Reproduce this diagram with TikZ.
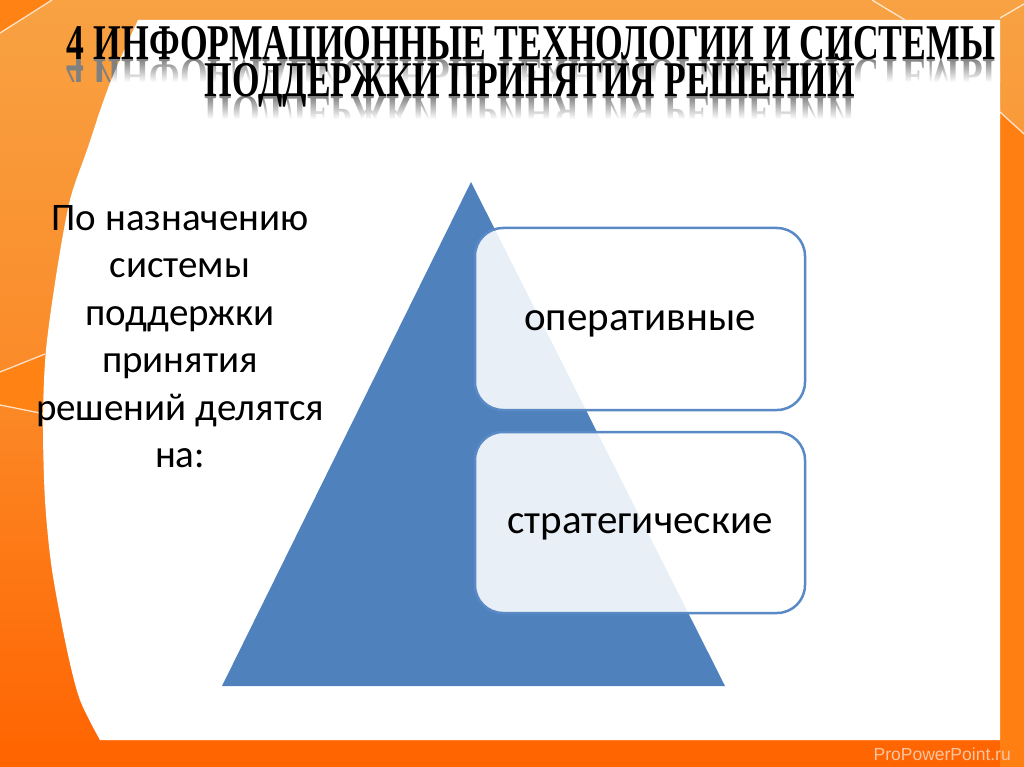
\documentclass[tikz,border=0pt]{standalone}
\usepackage{fontspec}
\setmainfont{Liberation Serif}
\newfontfamily\bodyfont{Carlito}
\newfontfamily\wmfont{Liberation Sans}
\usetikzlibrary{fadings}
\definecolor{orTop}{HTML}{F8A243}
\definecolor{orMid}{HTML}{FB8A28}
\definecolor{orBot}{HTML}{FF6400}
\definecolor{orDark}{HTML}{FF8214}
\definecolor{triBlue}{HTML}{4F81BD}
\definecolor{boxLine}{HTML}{5A8AC6}
\definecolor{wmCol}{HTML}{F9C6A4}
\newcommand{\ttl}[1]{{\rmfamily\bfseries\fontsize{50}{50}\selectfont #1}}
\tikzset{
  titletext/.style={inner sep=0pt, anchor=base},
  reflect/.style={titletext, text=black!50},
  bodytext/.style={inner sep=0pt, align=center, font=\bodyfont\fontsize{39}{47.5}\selectfont},
  boxstyle/.style={draw=boxLine, line width=2.5pt, rounded corners=28pt, fill=white, fill opacity=0.88, text opacity=1, minimum width=330pt, minimum height=182pt, text height=22pt, text depth=0pt, font=\bodyfont\fontsize{41}{44}\selectfont},
  deco/.style={draw=white, line width=1.3pt, opacity=0.75}
}
\def\panelpath{plot[smooth] coordinates {(100,-740) (80,-700) (67,-650) (52,-570) (45,-500) (43,-420) (46,-350) (57,-270) (70,-200) (87,-150) (110,-83) (138,-20)} -- (1000,-20) -- (1000,-740) -- cycle}
\begin{document}
\begin{tikzpicture}[x=1pt,y=1pt]
\useasboundingbox (0,0) rectangle (1024,-767);
% background
\shade[top color=orTop, bottom color=orBot, middle color=orMid] (0,0) rectangle (1024,-767);
\fill[orDark] (0,0) -- (52,0) -- (0,-33) -- cycle;
\fill[orDark] (0,-372) -- (45,-354) -- (45,-414) -- (0,-405) -- cycle;
\fill[orDark!90!orBot] (1000,-112) -- (1024,-134) -- (1024,-767) -- (1000,-767) -- cycle;
\draw[deco] (0,-33) -- (52,0);
\draw[deco] (0,-372) -- (45,-354);
\draw[deco] (0,-405) -- (45,-414);
\draw[deco] (872,0) -- (905,-20);
\draw[deco] (1000,-18) -- (1024,-4);
\draw[deco] (1000,-112) -- (1024,-134);
% white panel
\fill[white] \panelpath;
% title reflections
\begin{scope}
\clip (0,-60) rectangle (1024,-82);
\node[reflect] (r1) at (531,-60) {\scalebox{1}[-1]{\resizebox{928pt}{\height}{\ttl{4 ИНФОРМАЦИОННЫЕ ТЕХНОЛОГИИ И СИСТЕМЫ}}}};
\end{scope}
\begin{scope}
\clip (0,-97) rectangle (1024,-119);
\node[reflect] (r2) at (530,-97) {\scalebox{1}[-1]{\resizebox{650pt}{\height}{\ttl{ПОДДЕРЖКИ ПРИНЯТИЯ РЕШЕНИЙ}}}};
\end{scope}
\begin{scope}
\clip \panelpath;
\fill[white, path fading=north] (0,-59) rectangle (1024,-82);
\fill[white, path fading=north] (0,-96) rectangle (1024,-119);
\end{scope}
% title
\node[titletext] (t1) at (531,-60) {\resizebox{928pt}{\height}{\ttl{4 ИНФОРМАЦИОННЫЕ ТЕХНОЛОГИИ И СИСТЕМЫ}}};
\node[titletext] (t2) at (530,-97) {\resizebox{650pt}{\height}{\ttl{ПОДДЕРЖКИ ПРИНЯТИЯ РЕШЕНИЙ}}};
% left text
\node[bodytext, anchor=north] (lead) at (180,-205) {По назначению\\системы\\поддержки\\принятия\\решений делятся\\на:};
% pyramid
\coordinate (apex) at (471,-182);
\coordinate (bl) at (222,-686);
\coordinate (br) at (725,-686);
\fill[triBlue] (apex) -- (br) -- (bl) -- cycle;
% boxes
\node[boxstyle] (op) at (640,-319) {оперативные};
\node[boxstyle, minimum height=181pt] (st) at (640,-522.5) {стратегические};
% watermark
\node[anchor=base east, inner sep=0pt, text=wmCol, font=\wmfont\fontsize{17.5}{20}\selectfont] (wm) at (1011,-760) {ProPowerPoint.ru};
\end{tikzpicture}
\end{document}
